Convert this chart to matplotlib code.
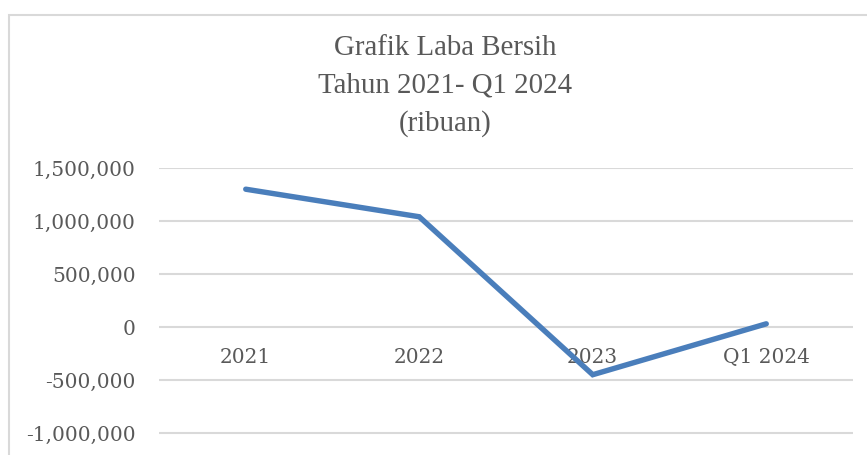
import matplotlib.pyplot as plt
from matplotlib.ticker import FuncFormatter
from matplotlib.patches import Rectangle

categories = ['2021', '2022', '2023', 'Q1 2024']
laba_bersih = [1300000, 1040000, -450000, 30000]
y_ticks = [-1000000, -500000, 0, 500000, 1000000, 1500000]

text_color = '#595959'
grid_color = '#d9d9d9'
line_color = '#4a7ebb'

fig = plt.figure(figsize=(8.67, 4.55), dpi=100)

# chart area border (cut off at right and bottom like the reference)
fig.patches.append(Rectangle((8.5 / 867, -0.1), 1.2, (455 - 14.5) / 455 + 0.1,
                             transform=fig.transFigure, fill=False,
                             edgecolor=grid_color, linewidth=1.5))

ax = fig.add_axes([159 / 867, 0, (853 - 159) / 867, (455 - 168) / 455])
x = range(len(categories))
ax.plot(x, laba_bersih, color=line_color, linewidth=3.9, solid_capstyle='round',
        solid_joinstyle='miter', zorder=3)

ax.set_xlim(-0.5, len(categories) - 0.5)
ax.set_ylim(-1207500, 1500000)
ax.set_yticks(y_ticks)
ax.yaxis.set_major_formatter(FuncFormatter(lambda v, p: f'{int(v):,}'))
ax.grid(axis='y', color=grid_color, linewidth=1.5)
ax.set_axisbelow(True)

for s in ['top', 'right', 'left']:
    ax.spines[s].set_visible(False)
ax.spines['bottom'].set_position(('data', 0))
ax.spines['bottom'].set_visible(False)

ax.set_xticks(list(x))
ax.set_xticklabels(categories)
ax.tick_params(axis='both', length=0, colors=text_color, labelsize=14.5)
ax.tick_params(axis='y', pad=17)
ax.tick_params(axis='x', pad=15)
for lab in ax.get_xticklabels() + ax.get_yticklabels():
    lab.set_family('DejaVu Serif')

fig.text(445 / 867, 1 - 86 / 455, 'Grafik Laba Bersih\nTahun 2021- Q1 2024\n(ribuan)',
         ha='center', va='center', fontsize=20.8, family='Liberation Serif',
         color=text_color, linespacing=1.55)

fig.savefig('out.png', dpi=100)
